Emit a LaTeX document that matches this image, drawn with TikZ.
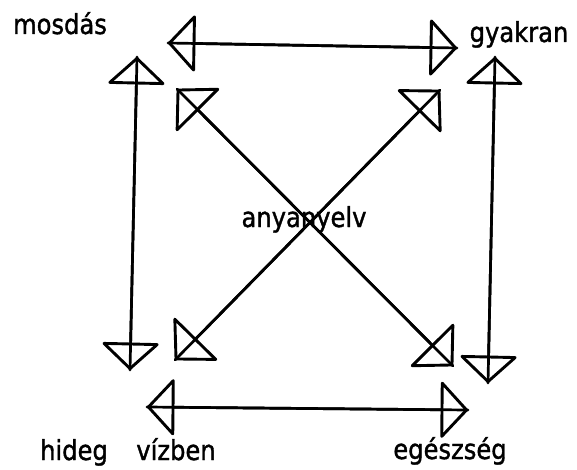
\documentclass[tikz,border=0pt]{standalone}
\usepackage{fontspec}
\setmainfont[FakeStretch=0.88,FakeBold=1.3]{DejaVu Sans}
\usetikzlibrary{arrows.meta}
\begin{document}
\begin{tikzpicture}[x=1pt,y=-1pt,
  wordlabel/.style={font=\fontsize{27.5}{30}\selectfont, inner sep=0pt, anchor=base},
  shaft/.style={line width=2.7pt, line cap=round},
  headed/.style={line width=2.7pt,
    {Triangle[open,length=28pt,width=60pt,line width=2.9pt,round]}-{Triangle[open,length=28pt,width=60pt,line width=2.9pt,round]}},
  dheaded/.style={line width=2.7pt,
    {Triangle[open,length=31pt,width=64pt,line width=2.9pt,round]}-{Triangle[open,length=31pt,width=64pt,line width=2.9pt,round]}}]
\fill[white] (0,0) rectangle (577,470);
\useasboundingbox (0,0) rectangle (577,470);
% end points
\coordinate (tl) at (168,43);
\coordinate (tr) at (457,48);
\coordinate (lt) at (137,57);
\coordinate (lb) at (130,370);
\coordinate (rt) at (495,57);
\coordinate (rb) at (488,383);
\coordinate (bl) at (147,407);
\coordinate (br) at (468,410);
\coordinate (da) at (177,89);
\coordinate (db) at (453,366);
\coordinate (dc) at (440,90);
\coordinate (dd) at (175,360);
% labels
\node[wordlabel] (mosdas) at (60,34) {mosdás};
\node[wordlabel] (gyakran) at (519,42) {gyakran};
\node[wordlabel] (anyanyelv) at (304,227) {anyanyelv};
\node[wordlabel] (hideg) at (74,460) {hideg};
\node[wordlabel] (vizben) at (176,460) {vízben};
\node[wordlabel] (egeszseg) at (450,459) {egészség};
% connectors
\draw[headed] (tl) -- (tr);
\draw[shaft] (tl) -- (tr);
\draw[headed] (lt) -- (lb);
\draw[shaft] (lt) -- (lb);
\draw[headed] (rt) -- (rb);
\draw[shaft] (rt) -- (rb);
\draw[headed] (bl) -- (br);
\draw[shaft] (bl) -- (br);
\draw[dheaded] (da) -- (db);
\draw[shaft] (da) -- (db);
\draw[dheaded] (dc) -- (dd);
\draw[shaft] (dc) -- (dd);
\end{tikzpicture}
\end{document}
